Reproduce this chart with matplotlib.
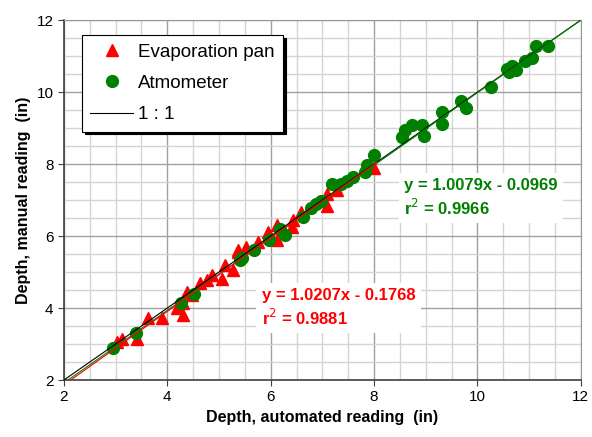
import numpy as np
import matplotlib
matplotlib.use("Agg")
import matplotlib.pyplot as plt
from matplotlib.ticker import MultipleLocator

plt.rcParams['font.family'] = ['Liberation Sans', 'DejaVu Sans']

# Evaporation pan (automated, manual)
pan_x = [3.02, 3.12, 3.42, 3.63, 3.90, 4.18, 4.31, 4.31, 4.38, 4.47, 4.63, 4.76, 4.86,
         5.05, 5.12, 5.28, 5.37, 5.37, 5.53, 5.76, 5.95, 6.12, 6.12, 6.41, 6.44, 6.58,
         7.09, 7.09, 7.28, 8.00]
pan_y = [3.06, 3.13, 3.13, 3.71, 3.71, 3.99, 3.81, 4.14, 4.45, 4.36, 4.69, 4.78, 4.92,
         4.82, 5.19, 5.06, 5.56, 5.61, 5.70, 5.84, 6.12, 6.31, 5.89, 6.24, 6.44, 6.68,
         7.18, 6.83, 7.28, 7.88]

# Atmometer
atm_x = [2.95, 3.39, 4.26, 4.52, 5.40, 5.45, 5.68, 5.97, 6.18, 6.28, 6.63, 6.78, 6.88,
         6.97, 7.18, 7.37, 7.47, 7.60, 7.82, 7.86, 8.00, 8.55, 8.60, 8.73, 8.93, 8.96,
         9.32, 9.32, 9.68, 9.78, 10.27, 10.58, 10.67, 10.74, 10.62, 10.70, 10.92, 11.06,
         11.14, 11.37]
atm_y = [2.88, 3.32, 4.15, 4.39, 5.33, 5.38, 5.61, 5.89, 6.19, 6.03, 6.52, 6.79, 6.89,
         6.98, 7.44, 7.46, 7.53, 7.63, 7.79, 7.97, 8.25, 8.74, 8.94, 9.08, 9.08, 8.78,
         9.45, 9.11, 9.76, 9.55, 10.13, 10.63, 10.72, 10.61, 10.55, 10.68, 10.87, 10.96,
         11.28, 11.28]

pan_fit = (1.0207, -0.1768)
atm_fit = (1.0079, -0.0969)

fig = plt.figure(figsize=(5.92, 4.37), dpi=100)
ax = fig.add_axes([0.108, 0.1304, 0.873, 0.8236])

ax.set_xlim(2, 12)
ax.set_ylim(2, 12)
ax.xaxis.set_major_locator(MultipleLocator(2))
ax.yaxis.set_major_locator(MultipleLocator(2))
ax.xaxis.set_minor_locator(MultipleLocator(0.5))
ax.yaxis.set_minor_locator(MultipleLocator(0.5))
ax.grid(which='minor', color='#d4d4d4', lw=1.0)
ax.grid(which='major', color='#a0a0a0', lw=1.0)
ax.set_axisbelow(True)
ax.tick_params(which='minor', length=0)
ax.tick_params(which='major', direction='out', length=4, labelsize=11, color='#404040')

for s in ['top', 'right']:
    ax.spines[s].set_color('#999999')
for s in ['left', 'bottom']:
    ax.spines[s].set_color('#404040')
    ax.spines[s].set_linewidth(1.2)

ax.plot(pan_x, pan_y, '^', color='red', ms=8, mec='red', ls='none', label='Evaporation pan', zorder=3)
ax.plot(atm_x, atm_y, 'o', color='green', ms=8.5, mec='green', ls='none', label='Atmometer', zorder=4)

xx = np.array([2, 12])
ax.plot(xx, xx, color='black', lw=0.8, label='1 : 1', zorder=5)
xa = np.array([2.0, 12.0])
ax.plot(xa, atm_fit[0] * xa + atm_fit[1], color='green', lw=0.8, zorder=5)
xp = np.array([2.0, 8.05])
ax.plot(xp, pan_fit[0] * xp + pan_fit[1], color='red', lw=0.8, zorder=5)

ax.text(8.58, 7.06, 'y = 1.0079x - 0.0969\nr$^{2}$ = 0.9966', color='#008000', fontsize=12,
        fontweight='bold', va='center', ha='left', linespacing=1.25, zorder=6,
        bbox=dict(facecolor='white', edgecolor='none', pad=4))
ax.text(5.83, 4.0, 'y = 1.0207x - 0.1768\nr$^{2}$ = 0.9881', color='red', fontsize=12,
        fontweight='bold', va='center', ha='left', linespacing=1.25, zorder=6,
        bbox=dict(facecolor='white', edgecolor='none', pad=4))

leg = ax.legend(loc='upper left', bbox_to_anchor=(0.035, 0.958), borderaxespad=0, fontsize=13.5,
                handlelength=2.25, handletextpad=0.3, labelspacing=0.75, borderpad=0.45,
                fancybox=False, edgecolor='black', framealpha=1,
                shadow={'color': 'black', 'alpha': 1})
leg.get_frame().set_linewidth(0.8)
leg.set_zorder(10)

ax.set_xlabel('Depth, automated reading  (in)', fontsize=11.5, fontweight='bold')
ax.set_ylabel('Depth, manual reading  (in)', fontsize=11.5, fontweight='bold')

fig.savefig('out.png', dpi=100)
